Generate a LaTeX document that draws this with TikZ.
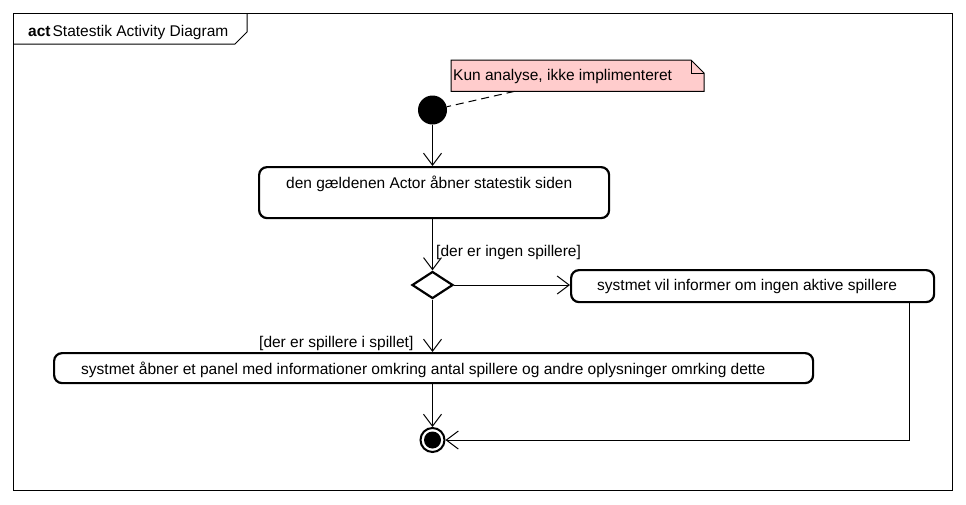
\documentclass[tikz,border=0pt]{standalone}
\usepackage{fontspec}
\setmainfont{Liberation Sans}
\usetikzlibrary{arrows.meta,shapes.geometric,calc}
\definecolor{notepink}{RGB}{255,204,204}
\begin{document}
\begin{tikzpicture}[x=1pt,y=-1pt,
  every node/.style={font=\fontsize{15.5}{18}\selectfont},
  txt/.style={inner sep=0pt, anchor=base west},
  action/.style={draw, line width=2.2pt, rounded corners=8pt, inner sep=0pt, anchor=north west},
  flow/.style={line width=1pt, -{Straight Barb[length=12pt,width=18pt,line width=1pt]}},
  plain/.style={line width=1pt}]
\useasboundingbox (0,0) rectangle (966,504);
\fill[white] (0,0) rectangle (966,504);
% frame
\draw[plain] (13.5,13.5) rectangle (952.5,490.5);
\draw[plain] (13.5,44) -- (235,44) -- (247,32) -- (247,13.5);
\node[txt] (title) at (28,36) {\textbf{act}\kern2pt Statestik Activity Diagram};
% note
\node[anchor=north west, minimum width=253pt, minimum height=31pt, inner sep=0pt] (note) at (451,60) {};
\filldraw[plain, fill=notepink] (note.north west) -- ++(240,0) -- ++(13,13) |- (note.south west) -- cycle;
\draw[plain] ($(note.north west)+(240,0)$) -- ++(0,13) -- ++(13,0);
\node[txt] (notetext) at (453,80) {Kun analyse, ikke implimenteret};
\coordinate (notept) at ($(note.south west)!0.25!(note.south east)$);
% initial
\node[circle, fill=black, minimum size=29pt, inner sep=0pt] (init) at (432.5,110) {};
\draw[plain, dash pattern=on 8pt off 5pt] (notept) -- (init);
% action 1
\node[action, minimum width=350pt, minimum height=51pt] (a1) at (258,166) {};
\node[txt] (t1) at (286,188) {den gældenen Actor åbner statestik siden};
% decision
\node[diamond, draw, line width=2.2pt, minimum width=41pt, minimum height=27pt, inner sep=0pt] (dec) at (432.5,285) {};
% action 2
\node[action, minimum width=363pt, minimum height=32pt] (a2) at (570,269) {};
\node[txt] (t2) at (597,290) {systmet vil informer om ingen aktive spillere};
% action 3
\node[action, minimum width=759pt, minimum height=30pt] (a3) at (53,352) {};
\node[txt] (t3) at (81,374) {systmet åbner et panel med informationer omkring antal spillere og andre oplysninger omrking dette};
% final
\node[circle, draw, line width=2pt, minimum size=24pt, inner sep=0pt] (fin) at (432.5,440) {};
\fill (fin.center) circle (8.5);
% guards
\node[txt] (g1) at (436,256) {[der er ingen spillere]};
\node[txt] (g2) at (259,347) {[der er spillere i spillet]};
% flows
\draw[flow] (init.south) -- (init.south |- a1.north);
\draw[flow] (dec.north |- a1.south) -- (dec.north);
\draw[flow] (dec.east) -- (dec.east -| a2.west);
\draw[flow] (dec.south) -- (dec.south |- a3.north);
\draw[flow] (fin.north |- a3.south) -- (fin.north);
\coordinate (a2out) at ($(a2.south east)+(-26,0)$);
\draw[flow] (a2out) |- (fin.east);
\end{tikzpicture}
\end{document}
